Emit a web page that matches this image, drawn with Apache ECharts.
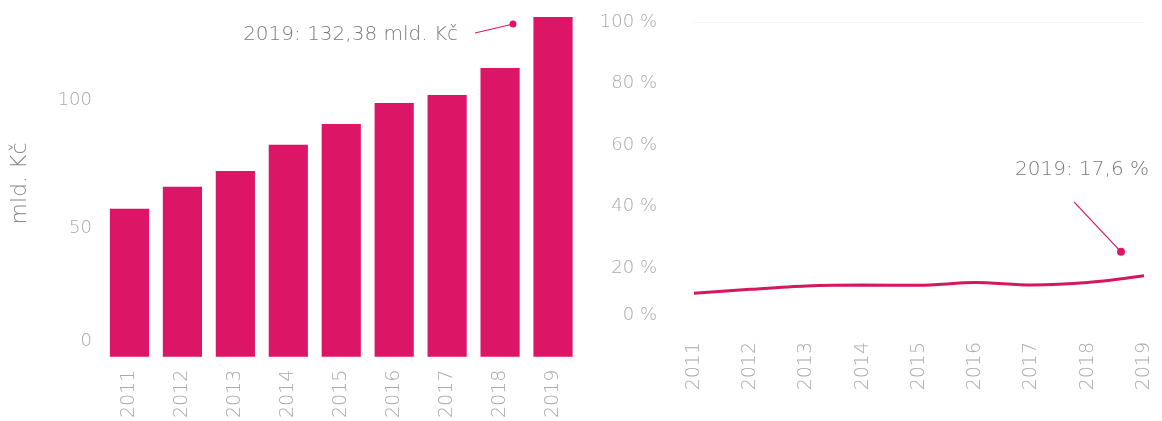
<!DOCTYPE html>
<html>
<head>
<meta charset="utf-8">
<script src="https://cdn.jsdelivr.net/npm/echarts@6/dist/echarts.min.js"></script>
<style>
html,body{margin:0;padding:0;background:#fff;}
#c{width:1162px;height:421px;}
</style>
</head>
<body>
<div id="c"></div>
<script>
const years = ['2011','2012','2013','2014','2015','2016','2017','2018','2019'];
const spending = [57.6, 66.2, 72.4, 82.6, 90.7, 98.9, 102.0, 112.5, 132.38];
const share = [11.9, 13.2, 14.3, 14.6, 14.5, 15.4, 14.6, 15.4, 17.6];
const leftTicks = [0, 50, 100];
const rightTicks = [0, 20, 40, 60, 80, 100];
const unitLabel = 'mld. Kč';

const PINK = '#dc1566';
const FONT = 'DejaVu Sans';
const W = 200;
const TICK = '#a9a9a9';
const fmt = (v, d) => v.toFixed(d).replace('.', ',');

const chart = echarts.init(document.getElementById('c'), null, {renderer: 'canvas'});

const tickLabel = () => ({
  color: TICK, fontFamily: FONT, fontSize: 18, fontWeight: W,
  rich: { z: { color: TICK, fontFamily: FONT, fontSize: 18, fontWeight: W, padding: [0, 0, 30, 0] } }
});

chart.setOption({
  animation: false,
  grid: [
    { left: 103, right: 1162 - 579.5, top: 10.3, bottom: 64 },
    { left: 694, right: 18, top: 22, bottom: 91 }
  ],
  xAxis: [
    { type: 'category', gridIndex: 0, data: years,
      axisLine: {show: false}, axisTick: {show: false},
      axisLabel: { rotate: 90, color: TICK, fontFamily: FONT, fontWeight: W, fontSize: 19, margin: 13 } },
    { type: 'category', gridIndex: 1, data: years, boundaryGap: false,
      axisLine: {show: false}, axisTick: {show: false},
      axisLabel: { rotate: 90, color: TICK, fontFamily: FONT, fontWeight: W, fontSize: 19, margin: 12 } }
  ],
  yAxis: [
    { type: 'value', gridIndex: 0, min: 0, max: 135, interval: 50,
      name: unitLabel, nameLocation: 'middle', nameGap: 72, nameRotate: 90,
      nameTextStyle: { color: '#888', fontFamily: FONT, fontWeight: W, fontSize: 22 },
      axisLine: {show: false}, axisTick: {show: false}, splitLine: {show: false},
      axisLabel: Object.assign(tickLabel(), { margin: 11, showMaxLabel: false,
        formatter: v => leftTicks.includes(v) ? (v === 0 ? '{z|0}' : String(v)) : '' }) },
    { type: 'value', gridIndex: 1, min: 0, max: 100, interval: 20,
      axisLine: {show: false}, axisTick: {show: false},
      splitLine: { show: true, lineStyle: { color: ['rgba(0,0,0,0)','rgba(0,0,0,0)','rgba(0,0,0,0)','rgba(0,0,0,0)','rgba(0,0,0,0)','#f4f4f4'], width: 1 } },
      axisLabel: Object.assign(tickLabel(), { margin: 37,
        formatter: v => rightTicks.includes(v) ? (v === 0 ? '{z|0 %}' : v + ' %') : '' }) }
  ],
  series: [
    { type: 'bar', xAxisIndex: 0, yAxisIndex: 0, data: spending,
      barCategoryGap: '26%', itemStyle: { color: PINK } },
    { type: 'line', xAxisIndex: 1, yAxisIndex: 1, data: share, smooth: 0.3,
      symbol: 'none', lineStyle: { color: '#d4175e', width: 3 } }
  ]
});

// callouts anchored to the 2019 data points
const last = years.length - 1;
const pBar = chart.convertToPixel({xAxisIndex: 0, yAxisIndex: 0}, [last, spending[last]]);
const pLine = chart.convertToPixel({xAxisIndex: 1, yAxisIndex: 1}, [last, share[last]]);

const dotL = [pBar[0] - 40, pBar[1] + 7];
const dotR = [pLine[0] - 23, pLine[1] - 24];
const annFont = W + ' 20px "' + FONT + '"';

chart.setOption({
  graphic: [
    { type: 'line', shape: { x1: dotL[0] - 38, y1: dotL[1] + 9, x2: dotL[0], y2: dotL[1] },
      style: { stroke: PINK, lineWidth: 1.2 } },
    { type: 'circle', shape: { cx: dotL[0], cy: dotL[1], r: 3.5 }, style: { fill: PINK } },
    { type: 'text', x: dotL[0] - 55, y: dotL[1] + 11,
      style: { text: years[last] + ': ' + fmt(spending[last], 2) + ' ' + unitLabel,
        fill: '#7a7a7a', font: annFont, align: 'right', verticalAlign: 'middle' } },
    { type: 'line', shape: { x1: dotR[0] - 47, y1: dotR[1] - 50, x2: dotR[0], y2: dotR[1] },
      style: { stroke: PINK, lineWidth: 1.2 } },
    { type: 'circle', shape: { cx: dotR[0], cy: dotR[1], r: 4 }, style: { fill: PINK } },
    { type: 'text', x: dotR[0] + 28, y: dotR[1] - 82,
      style: { text: years[last] + ': ' + fmt(share[last], 1) + ' %',
        fill: '#7a7a7a', font: annFont, align: 'right', verticalAlign: 'middle' } }
  ]
});
</script>
</body>
</html>
